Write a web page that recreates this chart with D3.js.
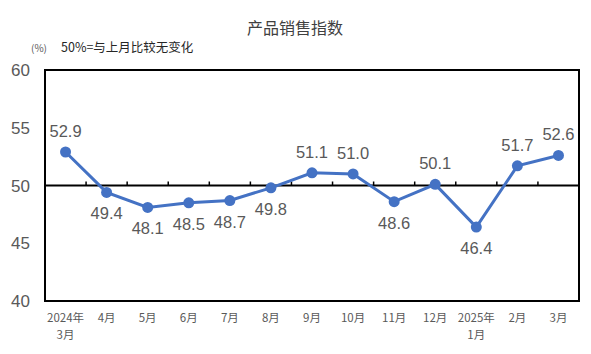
<!DOCTYPE html>
<html><head><meta charset="utf-8">
<script src="https://cdn.jsdelivr.net/npm/d3@7"></script>
<style>body{margin:0;background:#fff;}svg{display:block;font-family:"Noto Sans CJK SC","Liberation Sans",sans-serif;}</style>
</head><body>
<svg id="c" width="591" height="354"></svg>
<script>
const categories = ["2024年\n3月","4月","5月","6月","7月","8月","9月","10月","11月","12月","2025年\n1月","2月","3月"];
const values = [52.9,49.4,48.1,48.5,48.7,49.8,51.1,51.0,48.6,50.1,46.4,51.7,52.6];
const yTicks = [40,45,50,55,60];
const title = "产品销售指数";
const unitNote = "(%)";
const baseNote = "50%=与上月比较无变化";

const svg = d3.select("#c");
const L=45, R=579, T=70, B=301;
const x = d3.scaleBand().domain(d3.range(categories.length)).range([L,R]);
const y = d3.scaleLinear().domain([40,60]).range([B,T]);
const gray="#595959";

svg.append("text").attr("x",295).attr("y",34).attr("text-anchor","middle")
  .attr("font-size",16).attr("fill","#404040").text(title);
svg.append("text").attr("x",31).attr("y",52).attr("font-size",10).attr("fill",gray).text(unitNote);
svg.append("text").attr("x",61).attr("y",52).attr("font-size",12.5).attr("fill","#262626").text(baseNote);

// y labels
svg.selectAll(".yl").data(yTicks).join("text")
  .attr("x",30).attr("y",d=>y(d)).attr("dy","0.36em").attr("text-anchor","end")
  .attr("font-family","Liberation Sans, Arial, sans-serif")
  .attr("font-size",17).attr("fill",gray).text(d=>d);

// frame
svg.append("rect").attr("x",L).attr("y",T).attr("width",R-L).attr("height",B-T)
  .attr("fill","none").attr("stroke","#000").attr("stroke-width",2);

// 50 line with ticks
svg.append("line").attr("x1",L).attr("x2",R).attr("y1",y(50)).attr("y2",y(50))
  .attr("stroke","#000").attr("stroke-width",2);
svg.selectAll(".tk").data(d3.range(1,categories.length)).join("line")
  .attr("x1",i=>x(i)).attr("x2",i=>x(i)).attr("y1",y(50)).attr("y2",y(50)-4)
  .attr("stroke","#000").attr("stroke-width",1.5);

// x labels
categories.forEach((c,i)=>{
  c.split("\n").forEach((s,k)=>{
    svg.append("text").attr("x",x(i)+x.bandwidth()/2).attr("y",322+k*16.5)
      .attr("text-anchor","middle").attr("font-size",11.5).attr("fill",gray).text(s);
  });
});

// line
const cx=i=>x(i)+x.bandwidth()/2;
svg.append("path").datum(values)
  .attr("d",d3.line().x((d,i)=>cx(i)).y(d=>y(d)))
  .attr("fill","none").attr("stroke","#4472C4").attr("stroke-width",3);
svg.selectAll(".pt").data(values).join("circle")
  .attr("cx",(d,i)=>cx(i)).attr("cy",d=>y(d)).attr("r",5.5).attr("fill","#4472C4");

// data labels
svg.selectAll(".dl").data(values).join("text")
  .attr("x",(d,i)=>cx(i)).attr("y",d=>d>=50?y(d)-15:y(d)+27)
  .attr("text-anchor","middle").attr("font-family","Liberation Sans, Arial, sans-serif")
  .attr("font-size",16.5).attr("fill",gray).text(d=>d.toFixed(1));
</script>
</body></html>
